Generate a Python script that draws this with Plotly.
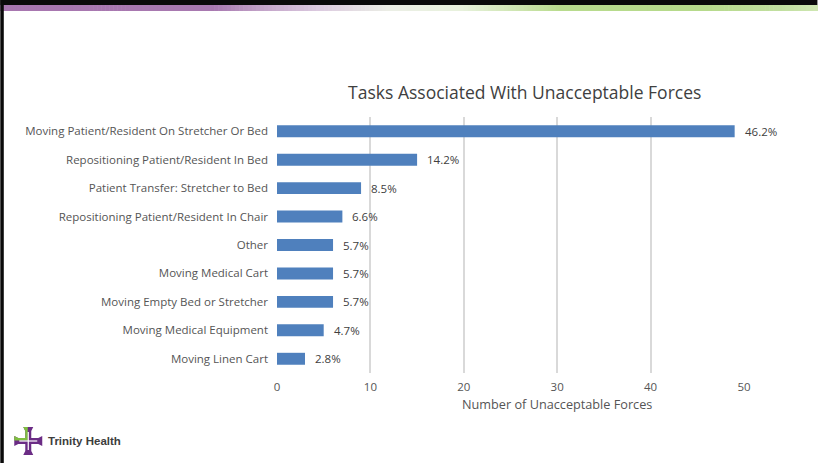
import plotly.graph_objects as go

categories = [
    "Moving Patient/Resident On Stretcher Or Bed",
    "Repositioning Patient/Resident In Bed",
    "Patient Transfer: Stretcher to Bed",
    "Repositioning Patient/Resident In Chair",
    "Other",
    "Moving Medical Cart",
    "Moving Empty Bed or Stretcher",
    "Moving Medical Equipment",
    "Moving Linen Cart",
]
counts = [49, 15, 9, 7, 6, 6, 6, 5, 3]
pct_labels = ["46.2%", "14.2%", "8.5%", "6.6%", "5.7%", "5.7%", "5.7%", "4.7%", "2.8%"]
x_ticks = [0, 10, 20, 30, 40, 50]

title_text = "Tasks Associated With Unacceptable Forces"
x_title = "Number of Unacceptable Forces"
logo_text = "Trinity Health"

W, H = 818, 463
PL, PR, PT, PB = 277, 744.5, 117, 373  # plot area in pixels

def px(X):
    return (X - PL) / (PR - PL)

def py(Y):
    return (PB - Y) / (PB - PT)

FONT = "Open Sans, Lato, sans-serif"
TXT = "#555555"

fig = go.Figure()
fig.add_trace(go.Bar(
    x=counts, y=categories, orientation="h",
    marker=dict(color="#4f80bd", line=dict(width=0)),
    hoverinfo="skip",
))

annotations = []
for c, v, t in zip(categories, counts, pct_labels):
    annotations.append(dict(x=v, y=c, xref="x", yref="y", text=t, showarrow=False,
                            xanchor="left", xshift=8,
                            font=dict(family=FONT, size=11.5, color="#404040")))

annotations.append(dict(x=px(557.5), y=py(404), xref="paper", yref="paper", text=x_title,
                        showarrow=False, xanchor="center", yanchor="middle",
                        font=dict(family=FONT, size=12.7, color=TXT)))
annotations.append(dict(x=px(46), y=py(441), xref="paper", yref="paper", text="<b>" + logo_text + "</b>",
                        showarrow=False, xanchor="left", yanchor="middle",
                        font=dict(family="Liberation Sans Narrow, Arial Narrow, Liberation Sans, sans-serif",
                                  size=11.5, color="#3d3d3d")))

# top gradient band built from colour stops
band_stops = [
    (0, "#a877b0"), (214, "#a97ab1"), (260, "#c2a2c8"), (320, "#dccbe0"),
    (390, "#ecefe6"), (460, "#e8f2dd"), (516, "#cfe6b2"), (560, "#b9dc8e"),
    (700, "#b6da8b"), (782, "#c2e0a0"), (818, "#cfe7b2"),
]

def hex2rgb(h):
    h = h.lstrip("#")
    return tuple(int(h[i:i + 2], 16) for i in (0, 2, 4))

shapes = []
for (xa, ca), (xb, cb) in zip(band_stops[:-1], band_stops[1:]):
    ra, rb = hex2rgb(ca), hex2rgb(cb)
    n = max(1, int((xb - xa) / 4))
    for k in range(n):
        f = (k + 0.5) / n
        col = "rgb(%d,%d,%d)" % tuple(int(ra[i] + (rb[i] - ra[i]) * f) for i in range(3))
        x0 = xa + (xb - xa) * k / n
        x1 = xa + (xb - xa) * (k + 1) / n + 0.6
        shapes.append(dict(type="rect", xref="paper", yref="paper",
                           x0=px(x0), x1=px(x1), y0=py(11), y1=py(5),
                           fillcolor=col, line=dict(width=0), layer="above"))

# black frame lines
shapes.append(dict(type="rect", xref="paper", yref="paper", x0=px(0), x1=px(W), y0=py(5), y1=py(0),
                   fillcolor="#0a0a0a", line=dict(width=0), layer="above"))
shapes.append(dict(type="rect", xref="paper", yref="paper", x0=px(0), x1=px(3.5), y0=py(H), y1=py(0),
                   fillcolor="#0a0a0a", line=dict(width=0), layer="above"))

# logo cross
def path(pts):
    return "M " + " L ".join("%.5f,%.5f" % (px(a), py(b)) for a, b in pts) + " Z"

cx, cy = 28, 441
purple = "#6b2c85"
green = "#7fbf3f"
cross = [
    (cx - 3, cy - 10), (cx - 5, cy - 14), (cx + 5, cy - 14), (cx + 3, cy - 10), (cx + 3, cy - 3),
    (cx + 10, cy - 3), (cx + 14, cy - 5), (cx + 14, cy + 5), (cx + 10, cy + 3), (cx + 3, cy + 3),
    (cx + 3, cy + 10), (cx + 5, cy + 14), (cx - 5, cy + 14), (cx - 3, cy + 10), (cx - 3, cy + 3),
    (cx - 10, cy + 3), (cx - 14, cy + 5), (cx - 14, cy - 5), (cx - 10, cy - 3), (cx - 3, cy - 3),
]
shapes.append(dict(type="path", xref="paper", yref="paper", path=path(cross),
                   fillcolor=purple, line=dict(width=0), layer="above"))
green_part = [
    (cx - 3, cy - 10), (cx - 5, cy - 14), (cx - 0.5, cy - 14), (cx - 0.5, cy - 0.5),
    (cx - 14, cy - 0.5), (cx - 14, cy - 5), (cx - 10, cy - 3), (cx - 3, cy - 3),
]
shapes.append(dict(type="path", xref="paper", yref="paper", path=path(green_part),
                   fillcolor=green, line=dict(width=0), layer="above"))
shapes.append(dict(type="rect", xref="paper", yref="paper", x0=px(cx - 0.6), x1=px(cx + 0.6),
                   y0=py(cy + 9), y1=py(cy - 9), fillcolor="white", line=dict(width=0), layer="above"))
shapes.append(dict(type="rect", xref="paper", yref="paper", x0=px(cx - 9), x1=px(cx + 9),
                   y0=py(cy + 0.6), y1=py(cy - 0.6), fillcolor="white", line=dict(width=0), layer="above"))

fig.update_layout(
    width=W, height=H,
    margin=dict(l=PL, r=W - PR, t=PT, b=H - PB, pad=0),
    paper_bgcolor="white", plot_bgcolor="white",
    bargap=0.58,
    showlegend=False,
    title=dict(text=title_text, xref="paper", x=px(525), xanchor="center",
               yref="container", y=1 - 93 / H, yanchor="middle",
               font=dict(family=FONT, size=17.5, color="#404040")),
    xaxis=dict(range=[0, 50], tickvals=x_ticks, showgrid=True, gridcolor="#d9d9d9", gridwidth=1.5,
               zeroline=False, showline=False, ticks="", fixedrange=True,
               tickfont=dict(family=FONT, size=11.5, color=TXT), ticklabelstandoff=5),
    yaxis=dict(autorange="reversed", showgrid=False, zeroline=False, showline=False, ticks="",
               tickfont=dict(family=FONT, size=11.5, color=TXT), ticklabelstandoff=8, fixedrange=True),
    annotations=annotations,
    shapes=shapes,
)

fig.write_html("out.html")
